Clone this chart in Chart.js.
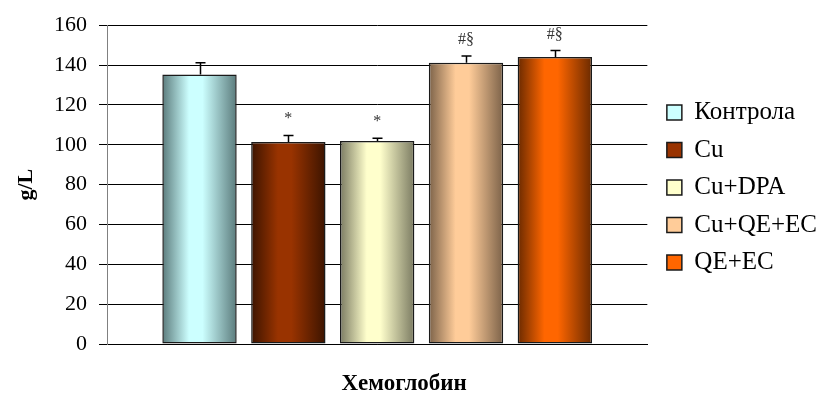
<!DOCTYPE html>
<html>
<head>
<meta charset="utf-8">
<script src="https://cdn.jsdelivr.net/npm/chart.js@4.4.1/dist/chart.umd.min.js"></script>
<style>
  html, body { margin: 0; padding: 0; background: #ffffff; }
  #wrap { width: 820px; height: 394px; }
</style>
</head>
<body>
<div id="wrap"><canvas id="chart" width="820" height="394"></canvas></div>
<script>
// Haemoglobin (g/L) per experimental group, mean with upward error bar
const categories = ['Хемоглобин'];
const groups = ['Контрола', 'Cu', 'Cu+DPA', 'Cu+QE+EC', 'QE+EC'];
const means = [135.2, 101.4, 101.9, 141.2, 144.0];
const errors = [6.0, 3.3, 1.3, 3.4, 3.3];
const marks = ['', '*', '*', '#§', '#§'];
const yTicks = [0, 20, 40, 60, 80, 100, 120, 140, 160];

const lightColors = ['#ccffff', '#993300', '#ffffcc', '#ffcc99', '#ff6600'];
const darkColors = ['#5b7b7c', '#3c1400', '#7b7b62', '#7c6249', '#6a2a00'];

const SERIF = '"Liberation Serif", "Times New Roman", serif';

// Cylinder-like shading: dark edges, light centre
const shadeBars = {
  id: 'shadeBars',
  beforeDatasetsDraw(chart) {
    const ctx = chart.ctx;
    chart.data.datasets.forEach((ds, i) => {
      const meta = chart.getDatasetMeta(i);
      meta.data.forEach(el => {
        const x0 = el.x - el.width / 2;
        const x1 = el.x + el.width / 2;
        const g = ctx.createLinearGradient(x0, 0, x1, 0);
        g.addColorStop(0, darkColors[i]);
        g.addColorStop(0.36, lightColors[i]);
        g.addColorStop(0.54, lightColors[i]);
        g.addColorStop(1, darkColors[i]);
        el.options = Object.assign({}, el.options, { backgroundColor: g });
      });
    });
  }
};

// Nudge the legend block so it sits beside the upper part of the plot
const legendPlacement = {
  id: 'legendPlacement',
  afterLayout(chart) {
    const lg = chart.legend;
    if (!lg) return;
    lg.left += 7; lg.right += 7;
    lg.top -= 20; lg.bottom -= 20;
  }
};

// Upward error bars and significance marks above each bar
const errorBars = {
  id: 'errorBars',
  afterDatasetsDraw(chart) {
    const ctx = chart.ctx;
    const y = chart.scales.y;
    ctx.save();
    chart.data.datasets.forEach((ds, i) => {
      const meta = chart.getDatasetMeta(i);
      meta.data.forEach((el, j) => {
        const v = ds.data[j];
        const yTop = y.getPixelForValue(v + errors[i]);
        const yBar = y.getPixelForValue(v);
        const cx = Math.round(el.x) + 0.5;
        ctx.strokeStyle = '#000000';
        ctx.lineWidth = 1.5;
        ctx.beginPath();
        ctx.moveTo(cx, yBar);
        ctx.lineTo(cx, yTop);
        ctx.moveTo(cx - 5, yTop);
        ctx.lineTo(cx + 5, yTop);
        ctx.stroke();
        if (marks[i]) {
          ctx.fillStyle = '#333333';
          ctx.font = '16px ' + SERIF;
          ctx.textAlign = 'center';
          ctx.textBaseline = 'alphabetic';
          ctx.fillText(marks[i], el.x, yTop - 12);
        }
      });
    });
    ctx.restore();
  }
};

Chart.defaults.color = '#000000';
Chart.defaults.font.family = SERIF;

new Chart(document.getElementById('chart'), {
  type: 'bar',
  data: {
    labels: categories,
    datasets: groups.map((name, i) => ({
      label: name,
      data: [means[i]],
      backgroundColor: lightColors[i],
      borderColor: '#1a1a1a',
      borderWidth: 1.5,
      borderSkipped: false,
      categoryPercentage: 0.822,
      barPercentage: 0.837
    }))
  },
  options: {
    responsive: false,
    animation: false,
    devicePixelRatio: 1,
    layout: { padding: { top: 21, right: 0, bottom: 0, left: 0 } },
    plugins: {
      tooltip: { enabled: false },
      legend: {
        position: 'right',
        labels: {
          boxWidth: 15,
          boxHeight: 15,
          padding: 12.5,
          color: '#000000',
          font: { family: SERIF, size: 25 }
        }
      }
    },
    scales: {
      x: {
        grid: { display: false },
        border: { display: true, color: '#000000', width: 1 },
        ticks: {
          padding: 18,
          labelOffset: 27,
          color: '#000000',
          font: { family: SERIF, size: 23, weight: 'bold' }
        },
        afterFit(scale) { scale.height = 50; }
      },
      y: {
        min: 0,
        max: 160,
        afterBuildTicks(scale) { scale.ticks = yTicks.map(v => ({ value: v })); },
        grid: { color: '#000000', lineWidth: 1, tickLength: 8, drawTicks: true },
        border: { display: true, color: '#808080', width: 1 },
        ticks: {
          padding: 12,
          color: '#000000',
          font: { family: SERIF, size: 22 }
        },
        title: {
          display: true,
          text: 'g/L',
          color: '#000000',
          padding: { top: 13, bottom: 4 },
          font: { family: SERIF, size: 22, weight: 'bold' }
        },
        afterFit(scale) { scale.width = 107; }
      }
    }
  },
  plugins: [shadeBars, legendPlacement, errorBars]
});
</script>
</body>
</html>
